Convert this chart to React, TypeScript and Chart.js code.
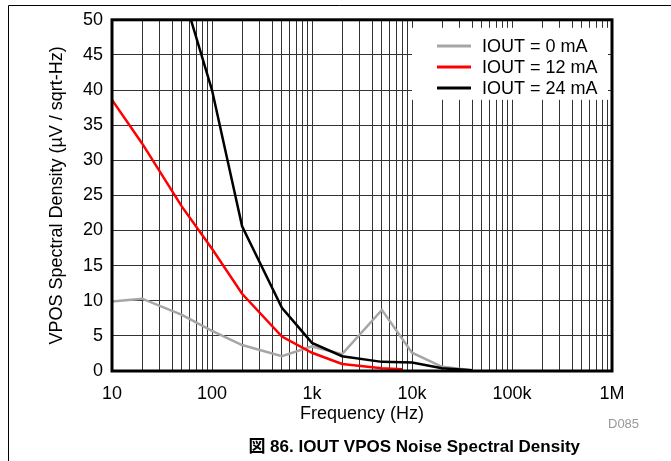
import { useEffect, useRef } from "react";
import { Chart, registerables } from "chart.js";

Chart.register(...registerables);

// ---- data ----
const seriesLabels = ["IOUT = 0 mA", "IOUT = 12 mA", "IOUT = 24 mA"];
const seriesColors = ["#a6a6a6", "#ff0000", "#000000"];

const freq0 = [10, 20, 50, 100, 200, 500, 1000, 2000, 5000, 10000, 20000, 40000];
const vals0 = [9.9, 10.3, 8.0, 5.7, 3.7, 2.1, 3.5, 2.4, 8.7, 2.6, 0.6, 0.1];

const freq12 = [10, 20, 50, 100, 200, 500, 1000, 2000, 5000, 8000];
const vals12 = [38.6, 32.4, 23.4, 17.4, 11.0, 4.9, 2.6, 1.0, 0.4, 0.25];

const freq24 = [50, 100, 200, 500, 1000, 2000, 5000, 10000, 20000, 40000];
const vals24 = [54.3, 40.0, 20.6, 9.0, 4.0, 2.1, 1.3, 1.2, 0.4, 0.1];

const xTickValues = [10, 100, 1000, 10000, 100000, 1000000];
const xTickLabels = ["10", "100", "1k", "10k", "100k", "1M"];
const yMin = 0;
const yMax = 50;
const yStep = 5;

const xTitle = "Frequency (Hz)";
const yTitle = "VPOS Spectral Density (\u00b5V / sqrt-Hz)";
const caption = "\u56f3 86. IOUT VPOS Noise Spectral Density";
const figId = "D085";

const FONT = "'Liberation Sans', Arial, 'Noto Sans CJK JP', sans-serif";

// grid values: 1..9 per decade
const gridValues: number[] = [];
for (let e = 1; e < 6; e++) {
  for (let m = 1; m <= 9; m++) gridValues.push(Math.round(m * Math.pow(10, e)));
}
gridValues.push(1000000);

const toPoints = (xs: number[], ys: number[]) => xs.map((x, i) => ({ x, y: ys[i] }));

const overlayPlugin = {
  id: "overlay",
  afterDatasetsDraw(chart: any) {
    const { ctx, chartArea: a } = chart;
    ctx.save();
    // plot frame
    ctx.strokeStyle = "#000";
    ctx.lineWidth = 3;
    ctx.strokeRect(a.left, a.top, a.right - a.left, a.bottom - a.top);

    // legend box
    const bx = a.right - 200;
    const by = a.top + 8;
    ctx.fillStyle = "#fff";
    ctx.fillRect(bx, by, 196, 72);
    const rows = [46, 67, 88];
    chart.data.datasets.forEach((ds: any, i: number) => {
      const y = rows[i];
      ctx.strokeStyle = ds.borderColor;
      ctx.lineWidth = 3;
      ctx.beginPath();
      ctx.moveTo(bx + 25, y);
      ctx.lineTo(bx + 59, y);
      ctx.stroke();
      ctx.fillStyle = "#000";
      ctx.font = `18px ${FONT}`;
      ctx.textAlign = "left";
      ctx.textBaseline = "middle";
      ctx.fillText(ds.label, bx + 70, y + 1);
    });
    ctx.restore();
  },
  afterDraw(chart: any) {
    const { ctx, width, height } = chart;
    ctx.save();
    // outer figure frame (top and left)
    ctx.strokeStyle = "#000";
    ctx.lineWidth = 1;
    ctx.beginPath();
    ctx.moveTo(8.5, height);
    ctx.lineTo(8.5, 5.5);
    ctx.lineTo(width, 5.5);
    ctx.stroke();

    ctx.fillStyle = "#999";
    ctx.font = `13px ${FONT}`;
    ctx.textAlign = "left";
    ctx.textBaseline = "middle";
    ctx.fillText(figId, 608, 424);

    ctx.fillStyle = "#000";
    ctx.font = `bold 17px ${FONT}`;
    ctx.textAlign = "right";
    ctx.fillText(caption, 580, 447);
    ctx.restore();
  },
};

export default function App() {
  const ref = useRef<HTMLCanvasElement | null>(null);

  useEffect(() => {
    document.body.style.margin = "0";
    const canvas = ref.current;
    if (!canvas) return;
    const chart = new Chart(canvas, {
      type: "line",
      data: {
        datasets: [
          {
            label: seriesLabels[0],
            data: toPoints(freq0, vals0),
            borderColor: seriesColors[0],
            borderWidth: 2.5,
            pointRadius: 0,
            tension: 0,
            order: 3,
          },
          {
            label: seriesLabels[1],
            data: toPoints(freq12, vals12),
            borderColor: seriesColors[1],
            borderWidth: 2.5,
            pointRadius: 0,
            tension: 0,
            order: 2,
          },
          {
            label: seriesLabels[2],
            data: toPoints(freq24, vals24),
            borderColor: seriesColors[2],
            borderWidth: 2.5,
            pointRadius: 0,
            tension: 0,
            order: 1,
          },
        ],
      },
      options: {
        responsive: false,
        animation: false,
        devicePixelRatio: 1,
        layout: { padding: { top: 17, right: 59, left: 0, bottom: 0 } },
        plugins: {
          legend: { display: false },
          tooltip: { enabled: false },
        },
        scales: {
          x: {
            type: "logarithmic",
            min: 10,
            max: 1000000,
            afterBuildTicks: (s: any) => {
              s.ticks = gridValues.map((v) => ({ value: v }));
            },
            afterFit: (s: any) => {
              s.height = 90;
            },
            grid: { color: "#333", lineWidth: 1, drawTicks: false },
            border: { display: false },
            ticks: {
              autoSkip: false,
              maxRotation: 0,
              minRotation: 0,
              padding: 12,
              color: "#000",
              font: { family: FONT, size: 18 },
              callback: (v: any) => {
                const i = xTickValues.indexOf(Math.round(Number(v)));
                return i >= 0 ? xTickLabels[i] : "";
              },
            },
            title: {
              display: true,
              text: xTitle,
              color: "#000",
              font: { family: FONT, size: 18 },
              padding: { top: 0, bottom: 36 },
            },
          },
          y: {
            min: yMin,
            max: yMax,
            afterFit: (s: any) => {
              s.width = 112;
            },
            grid: { color: "#333", lineWidth: 1, drawTicks: false },
            border: { display: false },
            ticks: {
              stepSize: yStep,
              padding: 9,
              color: "#000",
              font: { family: FONT, size: 18 },
            },
            title: {
              display: true,
              text: yTitle,
              color: "#000",
              font: { family: FONT, size: 18 },
              padding: { top: 46, bottom: 0 },
            },
          },
        },
      },
      plugins: [overlayPlugin],
    });
    return () => chart.destroy();
  }, []);

  return (
    <canvas
      ref={ref}
      width={671}
      height={461}
      style={{ display: "block", width: 671, height: 461 }}
    />
  );
}
